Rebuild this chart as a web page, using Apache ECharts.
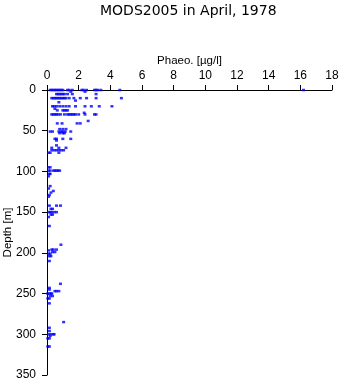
<!DOCTYPE html>
<html>
<head>
<meta charset="utf-8">
<script src="https://cdn.jsdelivr.net/npm/echarts@6/dist/echarts.min.js"></script>
<style>html,body{margin:0;padding:0;background:#fff}#c{width:341px;height:384px}</style>
</head>
<body>
<div id="c"></div>
<script>
const titleText = 'MODS2005 in April, 1978';
const xName = 'Phaeo. [\u00b5g/l]';
const yName = 'Depth [m]';
// sample depths (m) and the Phaeo values measured at each depth
const sampleDepths = [0, 2, 5, 10, 13, 15, 20, 23, 25, 28, 30, 38, 41, 48, 51, 53, 60, 62, 68, 71, 74, 77,
  95, 99, 103, 106, 118, 121, 124, 126, 129, 131, 142, 146, 150, 153, 156, 167,
  190, 196, 197, 199, 201, 204, 210, 238, 243, 245, 247, 250, 253, 256, 262,
  285, 292, 296, 300, 302, 305, 315];
const sampleValues = [
  [0.2, 0.3, 0.4, 0.5, 0.6, 0.7, 0.8, 0.9, 1.0, 1.3, 1.4, 1.6, 2.2, 2.3, 2.5, 3.0, 3.1, 3.2, 3.4, 4.6, 16.2],
  [1.5, 2.4],
  [0.6, 0.7, 0.8, 0.9, 1.0, 1.1, 1.3, 1.6, 3.1],
  [0.3, 0.4, 0.5, 0.6, 0.7, 0.8, 0.9, 1.0, 1.1, 1.2, 1.4, 1.7, 2.1, 2.5, 3.1, 4.7],
  [1.8],
  [0.75],
  [0.35, 0.45, 0.6, 0.8, 1.0, 1.2, 1.4, 1.8, 2.4, 2.8, 3.3, 4.1],
  [0.5],
  [0.65, 1.0, 1.1, 1.2, 1.3],
  [2.35],
  [0.3, 0.4, 0.5, 0.6, 0.7, 0.85, 1.1, 1.3, 1.4, 1.5, 1.6, 1.7, 1.8, 2.0, 2.4, 3.0, 3.1],
  [2.6],
  [0.65, 0.95, 1.9, 2.1],
  [0.8, 1.0, 1.2],
  [0.2, 0.35, 0.75, 0.9, 1.0, 1.15, 1.5],
  [0.8, 1.0, 1.1],
  [0.5, 0.6, 1.0, 1.5],
  [0.6],
  [0.6],
  [0.3, 0.75, 1.2],
  [0.3, 0.45, 0.6, 0.75, 0.9, 1.05],
  [0.1, 0.2, 0.75],
  [0.1, 0.2],
  [0.1, 0.2, 0.4, 0.5, 0.6, 0.7, 0.8],
  [0.15, 0.2],
  [0.1],
  [0.2],
  [0.1],
  [0.4],
  [0.25],
  [0.15],
  [0.1],
  [0.15, 0.6, 0.85],
  [0.25, 0.35],
  [0.1, 0.2, 0.3, 0.45, 0.6],
  [0.25, 0.35],
  [0.1],
  [0.15],
  [0.88],
  [0.3, 0.4, 0.6],
  [0.1],
  [0.35, 0.5],
  [0.1, 0.2],
  [0.15, 0.25],
  [0.15],
  [0.85],
  [0.15],
  [0.15],
  [0.5, 0.6, 0.75],
  [0.05, 0.15, 0.25, 0.3],
  [0.2, 0.35],
  [0.05, 0.15],
  [0.15],
  [1.05],
  [0.15],
  [0.15],
  [0.1, 0.25, 0.4, 0.45],
  [0.2],
  [0.05, 0.15],
  [0.05, 0.15]
];
const xTicks = {min: 0, max: 18, interval: 2};
const yTicks = {min: 0, max: 350, interval: 50};

const points = [];
sampleDepths.forEach((d, i) => sampleValues[i].forEach(v => points.push([v, d])));

const font = 'Liberation Sans, Arial, Helvetica, sans-serif';
const chart = echarts.init(document.getElementById('c'), null, {renderer: 'canvas'});
chart.setOption({
  animation: false,
  backgroundColor: '#ffffff',
  title: {
    text: titleText, left: 95, top: -1,
    textStyle: {fontFamily: 'DejaVu Sans, sans-serif', fontSize: 14, fontWeight: 'normal', color: '#000'}
  },
  grid: {left: 47, top: 90, width: 285, height: 285, containLabel: false, outerBoundsMode: 'none'},
  xAxis: {
    type: 'value', position: 'top', min: xTicks.min, max: xTicks.max, interval: xTicks.interval,
    name: xName, nameLocation: 'middle', nameGap: 23, nameMoveOverlap: false,
    nameTextStyle: {fontFamily: font, fontSize: 11.5, color: '#000'},
    axisLine: {show: true, onZero: false, lineStyle: {color: '#000', width: 1}},
    axisTick: {show: true, length: 5, lineStyle: {color: '#000'}},
    axisLabel: {fontFamily: font, fontSize: 12, color: '#000', margin: 8},
    splitLine: {show: false}
  },
  yAxis: {
    type: 'value', inverse: true, min: yTicks.min, max: yTicks.max, interval: yTicks.interval,
    name: yName, nameLocation: 'middle', nameGap: 33, nameRotate: 90, nameMoveOverlap: false,
    nameTextStyle: {fontFamily: font, fontSize: 11.5, color: '#000'},
    axisLine: {show: true, onZero: false, lineStyle: {color: '#000', width: 1}},
    axisTick: {show: true, length: 5, lineStyle: {color: '#000'}},
    axisLabel: {fontFamily: font, fontSize: 12, color: '#000', margin: 11},
    splitLine: {show: false}
  },
  series: [{
    type: 'scatter', data: points, symbol: 'rect', symbolSize: [3, 2.5],
    itemStyle: {color: '#0000ff'}, clip: false
  }]
});
</script>
</body>
</html>
